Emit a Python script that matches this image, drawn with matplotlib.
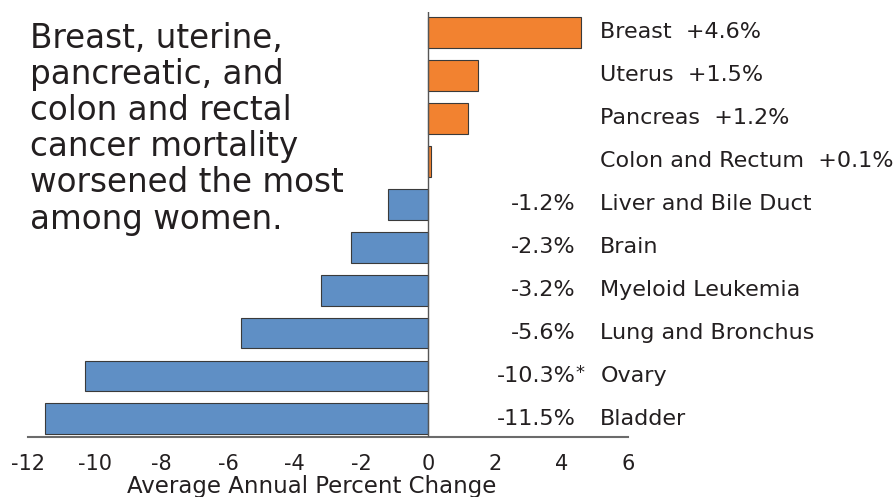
import matplotlib
matplotlib.use("Agg")
import matplotlib.pyplot as plt

categories = ["Breast", "Uterus", "Pancreas", "Colon and Rectum", "Liver and Bile Duct",
              "Brain", "Myeloid Leukemia", "Lung and Bronchus", "Ovary", "Bladder"]
values = [4.6, 1.5, 1.2, 0.1, -1.2, -2.3, -3.2, -5.6, -10.3, -11.5]
value_labels = ["+4.6%", "+1.5%", "+1.2%", "+0.1%", "-1.2%", "-2.3%", "-3.2%", "-5.6%", "-10.3%", "-11.5%"]
notes = ["", "", "", "", "", "", "", "", "*", ""]
xticks = [-12, -10, -8, -6, -4, -2, 0, 2, 4, 6]
title = "Breast, uterine,\npancreatic, and\ncolon and rectal\ncancer mortality\nworsened the most\namong women."

plt.rcParams['font.family'] = ['DejaVu Sans']
TXT = "#231f20"
ORANGE = "#f28230"
BLUE = "#5f8fc5"

fig = plt.figure(figsize=(8.95, 4.97), dpi=100)
ax = fig.add_axes([28/895, 1-437/497, 600/895, 425/497])

y = list(range(len(categories)))
colors = [ORANGE if v > 0 else BLUE for v in values]
ax.barh(y, values, height=0.72, color=colors, edgecolor="#3a3a3a", linewidth=0.8, zorder=2)
ax.set_ylim(9.42, -0.47)
ax.set_xlim(-12, 6)
ax.axvline(0, color="#555555", lw=1.0, zorder=3)

for s in ["left", "top", "right"]:
    ax.spines[s].set_visible(False)
ax.spines["bottom"].set_color("#6b6b6b")
ax.spines["bottom"].set_linewidth(1.5)
ax.set_yticks([])
ax.set_xticks(xticks)
ax.set_xticklabels([str(t) for t in xticks])
ax.tick_params(axis="x", length=0, pad=12, labelsize=15, labelcolor=TXT)
ax.set_xlabel("Average Annual Percent Change", fontsize=16.5, color=TXT, labelpad=0)
ax.xaxis.set_label_coords(0.472, -0.09)

name_x = 5.17
val_x = 4.42
for i, (c, v, vl, n) in enumerate(zip(categories, values, value_labels, notes)):
    if v > 0:
        ax.text(name_x, i, c + "  " + vl, ha="left", va="center", fontsize=16, color=TXT, clip_on=False)
    else:
        ax.text(name_x, i, c, ha="left", va="center", fontsize=16, color=TXT, clip_on=False)
        ax.text(val_x, i, vl, ha="right", va="center", fontsize=16, color=TXT, clip_on=False)
        if n:
            ax.text(val_x, i - 0.08, n, ha="left", va="center", fontsize=13, color=TXT, clip_on=False)

fig.text(30/895, 1-22/497, title, ha="left", va="top", fontsize=23.5, color=TXT, linespacing=1.12)

fig.savefig("out.png", dpi=100, facecolor="white")
